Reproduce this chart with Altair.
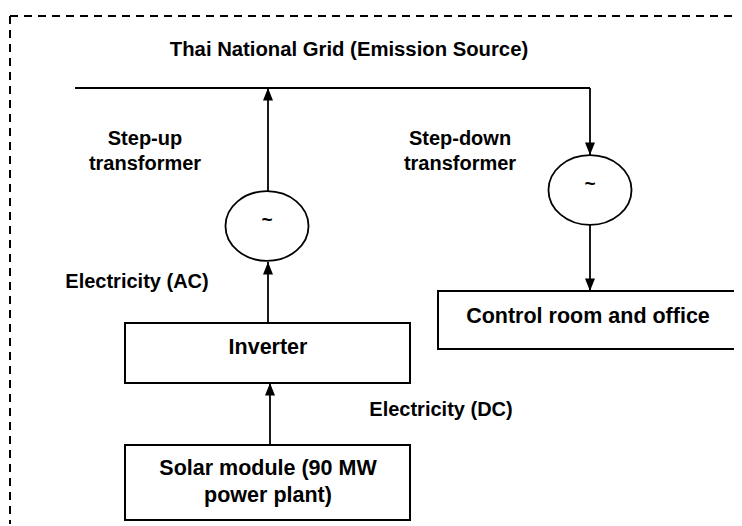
import altair as alt
import pandas as pd

# ---- diagram content (layout units = reference pixels) ----
box_names = ["Inverter", "Control room and office", "Solar module (90 MW\npower plant)"]
box_x1 = [125, 438, 125]
box_x2 = [410, 737, 410]
box_y1 = [323, 291, 445]
box_y2 = [383, 349, 520]
box_tx = [268, 588, 268]
box_ty = [348, 317, 469]

circle_names = ["Step-up", "Step-down"]
circle_x = [267, 590]
circle_y = [226, 190]

seg_x1 = [75, 268, 590, 268, 590, 270]
seg_x2 = [590, 268, 590, 268, 590, 270]
seg_y1 = [88, 88, 88, 262, 225, 383]
seg_y2 = [88, 191, 155, 323, 291, 445]

arrow_up_x = [268, 268, 270]
arrow_up_y = [88, 262, 383]
arrow_dn_x = [590, 590]
arrow_dn_y = [155, 291]

label_text = ["Step-up\ntransformer", "Step-down\ntransformer", "Electricity (AC)", "Electricity (DC)"]
label_x = [145, 460, 137, 441]
label_y = [139, 139, 282, 410]

title_text = ["Thai National Grid (Emission Source)"]
title_x = [349]
title_y = [50]

border_x1 = [10, 10]
border_x2 = [742, 10]
border_y1 = [16, 16]
border_y2 = [16, 526]

FONT = "Liberation Sans"

xs = alt.Scale(domain=[8, 734], nice=False, zero=False)
ys = alt.Scale(domain=[8, 524], nice=False, zero=False, reverse=True)
noax = None

def X(f):
    return alt.X(f, type="quantitative", scale=xs, axis=noax)

def Y(f):
    return alt.Y(f, type="quantitative", scale=ys, axis=noax)

boxes = pd.DataFrame(dict(name=box_names, x1=box_x1, x2=box_x2, y1=box_y1, y2=box_y2, tx=box_tx, ty=box_ty))
circles = pd.DataFrame(dict(name=circle_names, x=circle_x, y=circle_y, t=["~", "~"]))
segs = pd.DataFrame(dict(x1=seg_x1, x2=seg_x2, y1=seg_y1, y2=seg_y2))
aup = pd.DataFrame(dict(x=arrow_up_x, y=arrow_up_y))
adn = pd.DataFrame(dict(x=arrow_dn_x, y=arrow_dn_y))
labels = pd.DataFrame(dict(t=label_text, x=label_x, y=label_y))
title = pd.DataFrame(dict(t=title_text, x=title_x, y=title_y))
border = pd.DataFrame(dict(x1=border_x1, x2=border_x2, y1=border_y1, y2=border_y2))

border_l = alt.Chart(border).mark_rule(color="black", strokeWidth=2, strokeDash=[8, 6], clip=True).encode(
    x=X("x1"), x2="x2", y=Y("y1"), y2="y2")

seg_l = alt.Chart(segs).mark_rule(color="black", strokeWidth=1.8).encode(
    x=X("x1"), x2="x2", y=Y("y1"), y2="y2")

box_l = alt.Chart(boxes).mark_rect(fill="white", stroke="black", strokeWidth=2).encode(
    x=X("x1"), x2="x2", y=Y("y1"), y2="y2")

box_t = alt.Chart(boxes).mark_text(font=FONT, fontWeight="bold", fontSize=21.5, lineHeight=27,
                                   lineBreak="\n", align="center", baseline="middle", color="black").encode(
    x=X("tx"), y=Y("ty"), text="name:N")

ellipse_path = "M -1.19 0 A 1.19 1 0 1 1 1.19 0 A 1.19 1 0 1 1 -1.19 0 Z"
circ_l = alt.Chart(circles).mark_point(shape=ellipse_path, size=4872, filled=False,
                                       stroke="black", strokeWidth=1.8, opacity=1).encode(
    x=X("x"), y=Y("y"))
circ_t = alt.Chart(circles).mark_text(font=FONT, fontWeight="bold", fontSize=19,
                                      baseline="middle", color="black", dy=-6).encode(
    x=X("x"), y=Y("y"), text="t:N")

up_path = "M 0 0 L -0.8 2 L 0.8 2 Z"
dn_path = "M 0 0 L -0.8 -2 L 0.8 -2 Z"
aup_l = alt.Chart(aup).mark_point(shape=up_path, size=156, filled=True, color="black", opacity=1).encode(
    x=X("x"), y=Y("y"))
adn_l = alt.Chart(adn).mark_point(shape=dn_path, size=156, filled=True, color="black", opacity=1).encode(
    x=X("x"), y=Y("y"))

lab_l = alt.Chart(labels).mark_text(font=FONT, fontWeight="bold", fontSize=20, lineHeight=25,
                                    lineBreak="\n", align="center", baseline="middle", color="black").encode(
    x=X("x"), y=Y("y"), text="t:N")

title_l = alt.Chart(title).mark_text(font=FONT, fontWeight="bold", fontSize=20.3,
                                     align="center", baseline="middle", color="black").encode(
    x=X("x"), y=Y("y"), text="t:N")

chart = alt.layer(border_l, seg_l, box_l, box_t, circ_l, circ_t, aup_l, adn_l, lab_l, title_l).properties(
    width=726, height=516, padding=0, autosize=alt.AutoSizeParams(type="none"),
    background="white"
).configure_view(stroke=None)

chart.save("out.html", embed_options={"renderer": "svg", "actions": False})
